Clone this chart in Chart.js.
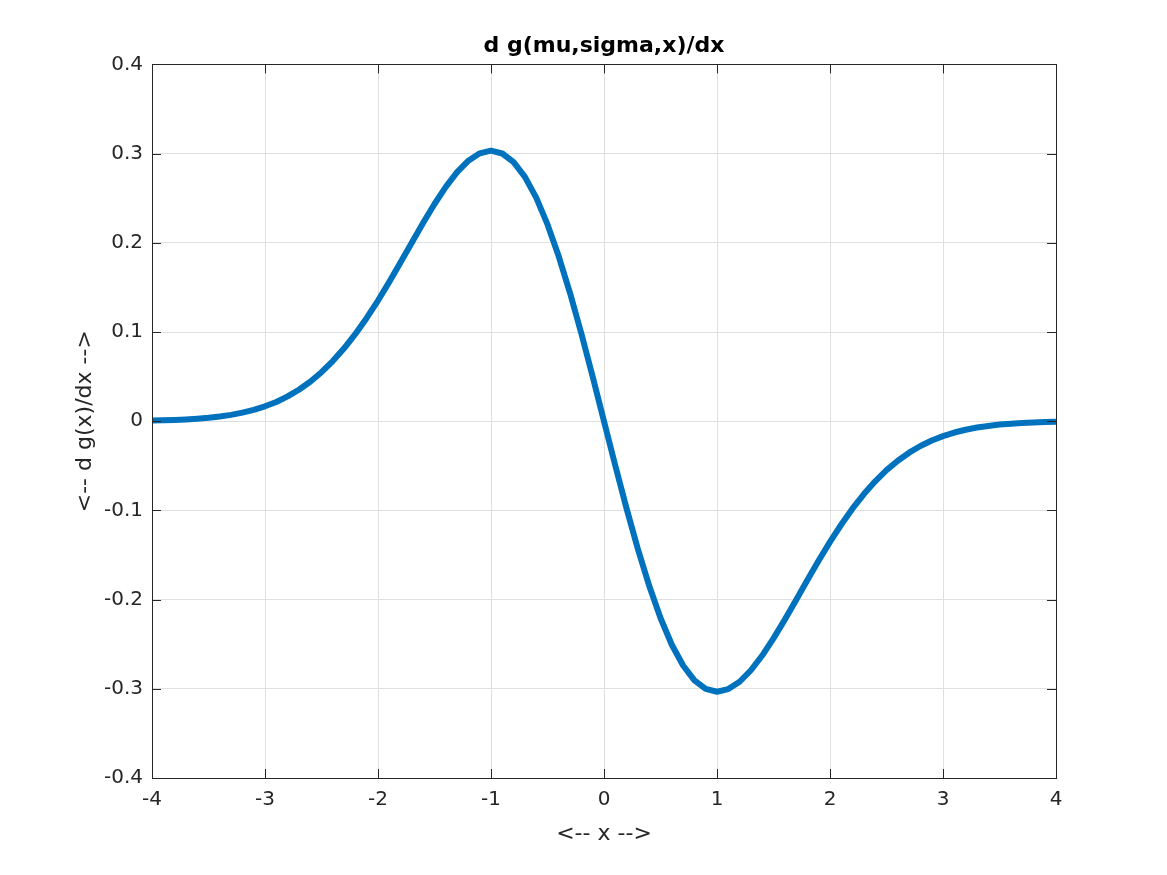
<!DOCTYPE html>
<html>
<head>
<meta charset="utf-8">
<script src="https://cdn.jsdelivr.net/npm/chart.js@4"></script>
<style>
  html, body { margin: 0; padding: 0; background: #fff; }
  #box { width: 1167px; height: 875px; }
</style>
</head>
<body>
<div id="box"><canvas id="ourChart"></canvas></div>
<script>
let xValues = [-4.0, -3.9, -3.8, -3.7, -3.6, -3.5, -3.4, -3.3, -3.2, -3.1,
  -3.0, -2.9, -2.8, -2.7, -2.6, -2.5, -2.4, -2.3, -2.2, -2.1,
  -2.0, -1.9, -1.8, -1.7, -1.6, -1.5, -1.4, -1.3, -1.2, -1.1,
  -1.0, -0.9, -0.8, -0.7, -0.6, -0.5, -0.4, -0.3, -0.2, -0.1,
  0.0, 0.1, 0.2, 0.3, 0.4, 0.5, 0.6, 0.7, 0.8, 0.9,
  1.0, 1.1, 1.2, 1.3, 1.4, 1.5, 1.6, 1.7, 1.8, 1.9,
  2.0, 2.1, 2.2, 2.3, 2.4, 2.5, 2.6, 2.7, 2.8, 2.9,
  3.0, 3.1, 3.2, 3.3, 3.4, 3.5, 3.6, 3.7, 3.8, 3.9, 4.0];

let dgValues = [0.0007, 0.0010, 0.0014, 0.0020, 0.0028, 0.0038, 0.0053, 0.0071, 0.0096, 0.0127,
  0.0167, 0.0216, 0.0278, 0.0353, 0.0443, 0.0549, 0.0674, 0.0817, 0.0978, 0.1158,
  0.1353, 0.1562, 0.1781, 0.2004, 0.2224, 0.2435, 0.2627, 0.2792, 0.2921, 0.3003,
  0.3033, 0.3001, 0.2905, 0.2739, 0.2506, 0.2206, 0.1846, 0.1434, 0.0980, 0.0498,
  0.0,
  -0.0498, -0.0980, -0.1434, -0.1846, -0.2206, -0.2506, -0.2739, -0.2905, -0.3001,
  -0.3033, -0.3003, -0.2921, -0.2792, -0.2627, -0.2435, -0.2224, -0.2004, -0.1781, -0.1562,
  -0.1353, -0.1158, -0.0978, -0.0817, -0.0674, -0.0549, -0.0443, -0.0353, -0.0278, -0.0216,
  -0.0167, -0.0127, -0.0096, -0.0071, -0.0053, -0.0038, -0.0028, -0.0020, -0.0014, -0.0010, -0.0007];

let xTicks = [-4, -3, -2, -1, 0, 1, 2, 3, 4];
let yTicks = [-0.4, -0.3, -0.2, -0.1, 0, 0.1, 0.2, 0.3, 0.4];

let titleText = "d g(mu,sigma,x)/dx";
let xLabel = "<-- x -->";
let yLabel = "<-- d g(x)/dx -->";

let points = xValues.map((x, i) => ({ x: x, y: dgValues[i] }));

// MATLAB style box with tick marks pointing inside
const boxTicks = {
    id: 'boxTicks',
    afterDraw(chart) {
        const ctx = chart.ctx;
        const a = chart.chartArea;
        const xs = chart.scales.x;
        const ys = chart.scales.y;
        const len = 9;
        ctx.save();
        ctx.strokeStyle = '#262626';
        ctx.lineWidth = 1;
        ctx.beginPath();
        xTicks.forEach(v => {
            const px = Math.round(xs.getPixelForValue(v)) + 0.5;
            ctx.moveTo(px, a.bottom); ctx.lineTo(px, a.bottom - len);
            ctx.moveTo(px, a.top); ctx.lineTo(px, a.top + len);
        });
        yTicks.forEach(v => {
            const py = Math.round(ys.getPixelForValue(v)) + 0.5;
            ctx.moveTo(a.left, py); ctx.lineTo(a.left + len, py);
            ctx.moveTo(a.right, py); ctx.lineTo(a.right - len, py);
        });
        ctx.stroke();
        ctx.strokeRect(Math.round(a.left) + 0.5, Math.round(a.top) + 0.5,
            Math.round(a.right - a.left), Math.round(a.bottom - a.top));
        ctx.restore();
    }
};

Chart.defaults.font.family = "'DejaVu Sans', sans-serif";
Chart.defaults.color = '#262626';

new Chart(document.getElementById('ourChart'), {
    type: 'line',
    data: {
        datasets: [
            {
                label: 'dg',
                data: points,
                borderColor: '#0072BD',
                borderWidth: 6,
                borderJoinStyle: 'round',
                pointRadius: 0,
                tension: 0,
                fill: false
            }
        ]
    },
    options: {
        responsive: true,
        maintainAspectRatio: false,
        animation: false,
        layout: { padding: { left: 41, right: 0, top: 0, bottom: 0 } },
        plugins: {
            legend: { display: false },
            tooltip: { enabled: false },
            title: {
                display: true,
                text: titleText,
                color: '#000',
                font: { size: 22, weight: 'bold' },
                padding: { top: 33, bottom: 5 }
            }
        },
        scales: {
            x: {
                type: 'linear',
                min: -4,
                max: 4,
                afterFit: s => { s.height = 97; },
                afterBuildTicks: s => { s.ticks = xTicks.map(v => ({ value: v })); },
                ticks: {
                    font: { size: 20 },
                    padding: 10,
                    maxRotation: 0,
                    callback: v => String(v)
                },
                grid: { color: '#dfdfdf', drawTicks: false },
                border: { display: false },
                title: {
                    display: true,
                    text: xLabel,
                    font: { size: 22 },
                    padding: { top: 0, bottom: 28 }
                }
            },
            y: {
                min: -0.4,
                max: 0.4,
                afterFit: s => { s.width = 111; },
                afterBuildTicks: s => { s.ticks = yTicks.map(v => ({ value: v })); },
                ticks: {
                    font: { size: 20 },
                    padding: 9,
                    callback: v => String(Math.round(v * 10) / 10)
                },
                grid: { color: '#dfdfdf', drawTicks: false },
                border: { display: false },
                title: {
                    display: true,
                    text: yLabel,
                    font: { size: 22 },
                    padding: { top: 31, bottom: 0 }
                }
            },
            // empty right margin so the title centres over the plot
            yRight: {
                position: 'right',
                min: -0.4,
                max: 0.4,
                afterFit: s => { s.width = 111; },
                ticks: { display: false },
                grid: { display: false, drawTicks: false },
                border: { display: false }
            }
        }
    },
    plugins: [boxTicks]
});
</script>
</body>
</html>
